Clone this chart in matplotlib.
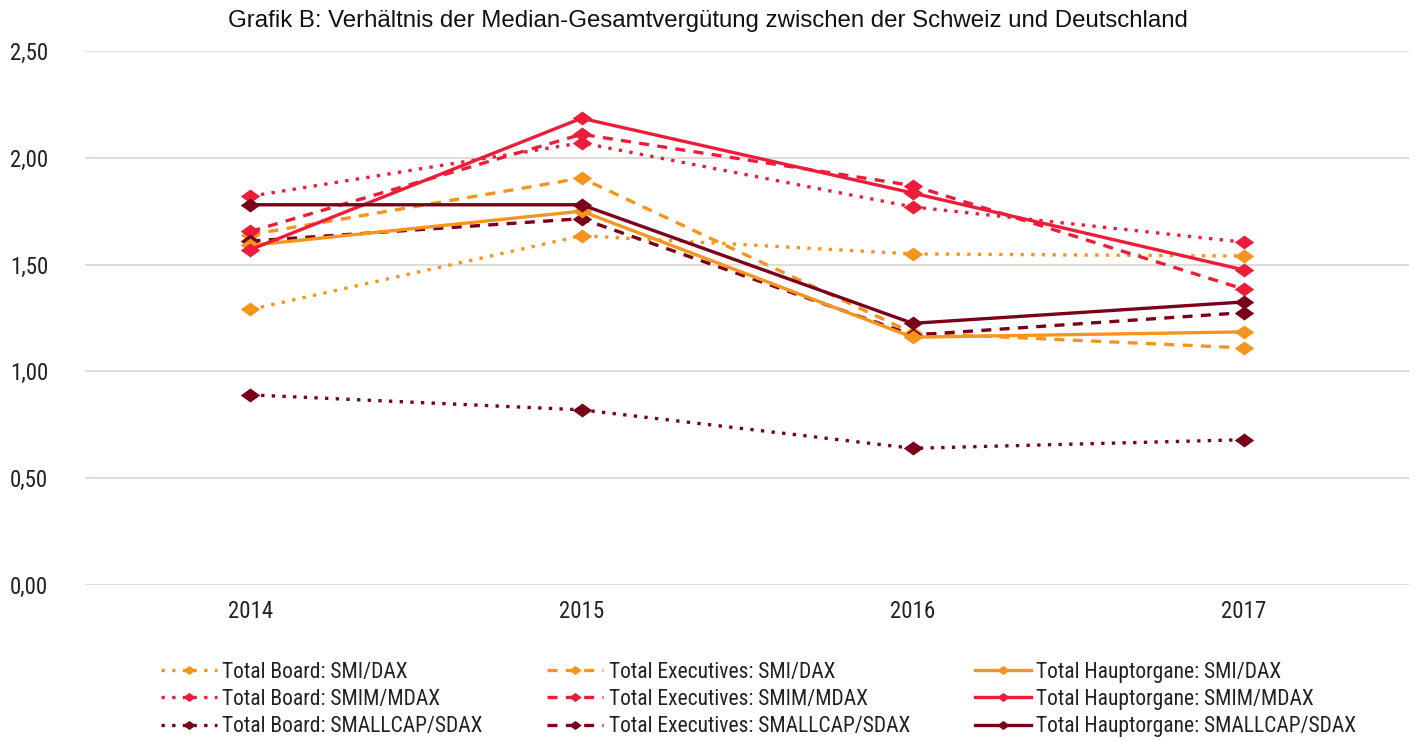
import matplotlib
matplotlib.use("Agg")
import matplotlib.pyplot as plt
from matplotlib import font_manager
import numpy as np

# years on the x axis
years = ["2014", "2015", "2016", "2017"]

# ratio CH / DE of median total compensation
board_smi = [1.29, 1.635, 1.55, 1.54]
board_smim = [1.82, 2.07, 1.77, 1.605]
board_small = [0.89, 0.82, 0.64, 0.68]

exec_smi = [1.64, 1.905, 1.18, 1.11]
exec_smim = [1.655, 2.11, 1.87, 1.385]
exec_small = [1.61, 1.715, 1.17, 1.275]

haupt_smi = [1.59, 1.75, 1.16, 1.185]
haupt_smim = [1.57, 2.185, 1.835, 1.475]
haupt_small = [1.78, 1.78, 1.225, 1.325]

orange = "#F7941D"
red = "#ED1C3A"
darkred = "#7A0019"

names = set(f.name for f in font_manager.fontManager.ttflist)
narrow = "Liberation Sans"
for cand in ["Liberation Sans Narrow", "Roboto Condensed", "Open Sans Condensed", "Arial Narrow"]:
    if cand in names:
        narrow = cand
        break

# flat diamond like in the original
diamond = [(-1, 0), (0, 0.72), (1, 0), (0, -0.72), (-1, 0)]

fig = plt.figure(figsize=(14.15, 7.42), dpi=100)
ax = fig.add_axes([0.06, 0.2116, 0.936, 0.7197])

x = np.arange(len(years))

series = [
    (board_smi, orange, ":", "Total Board: SMI/DAX"),
    (board_smim, red, ":", "Total Board: SMIM/MDAX"),
    (board_small, darkred, ":", "Total Board: SMALLCAP/SDAX"),
    (exec_smi, orange, "--", "Total Executives: SMI/DAX"),
    (exec_smim, red, "--", "Total Executives: SMIM/MDAX"),
    (exec_small, darkred, "--", "Total Executives: SMALLCAP/SDAX"),
    (haupt_smi, orange, "-", "Total Hauptorgane: SMI/DAX"),
    (haupt_smim, red, "-", "Total Hauptorgane: SMIM/MDAX"),
    (haupt_small, darkred, "-", "Total Hauptorgane: SMALLCAP/SDAX"),
]

handles = []
for vals, col, ls, lab in series:
    if ls == ":":
        lsty = (0, (1, 2.2))
    elif ls == "--":
        lsty = (0, (3, 2.5))
    else:
        lsty = "-"
    h, = ax.plot(x, vals, color=col, linestyle=lsty, linewidth=2.4,
                 marker=diamond, markersize=14, markeredgewidth=0, label=lab)
    handles.append(h)

ax.set_xlim(-0.5, 3.5)
ax.set_ylim(0, 2.5)
yt = np.arange(0, 2.51, 0.5)
ax.set_yticks(yt)
ax.set_yticklabels([f"{v:.2f}".replace(".", ",") for v in yt])
ax.set_xticks(x)
ax.set_xticklabels(years)
ax.grid(axis="y", color="#D9D6D3", linewidth=1.2)
ax.set_axisbelow(True)
for s in ax.spines.values():
    s.set_visible(False)
ax.tick_params(length=0, labelsize=16.5, labelcolor="#222222")
ax.tick_params(axis="x", pad=11)
ax.tick_params(axis="y", pad=54)
for t in ax.get_xticklabels() + ax.get_yticklabels():
    t.set_family(narrow)
for t in ax.get_yticklabels():
    t.set_horizontalalignment("left")

fig.text(0.5, 0.972, "Grafik B: Verhältnis der Median-Gesamtvergütung zwischen der Schweiz und Deutschland",
         ha="center", va="center", fontsize=17.3, family="Liberation Sans", color="#111111")

leg = fig.legend(handles=handles, ncol=3, loc="lower left", bbox_to_anchor=(0.1, -0.02),
                 frameon=False, prop={"family": narrow, "size": 15.5},
                 handlelength=2.6, handletextpad=0.25, columnspacing=3.0, labelspacing=0.3,
                 markerscale=0.65)
for t in leg.get_texts():
    t.set_color("#222222")

fig.savefig("out.png", dpi=100)
